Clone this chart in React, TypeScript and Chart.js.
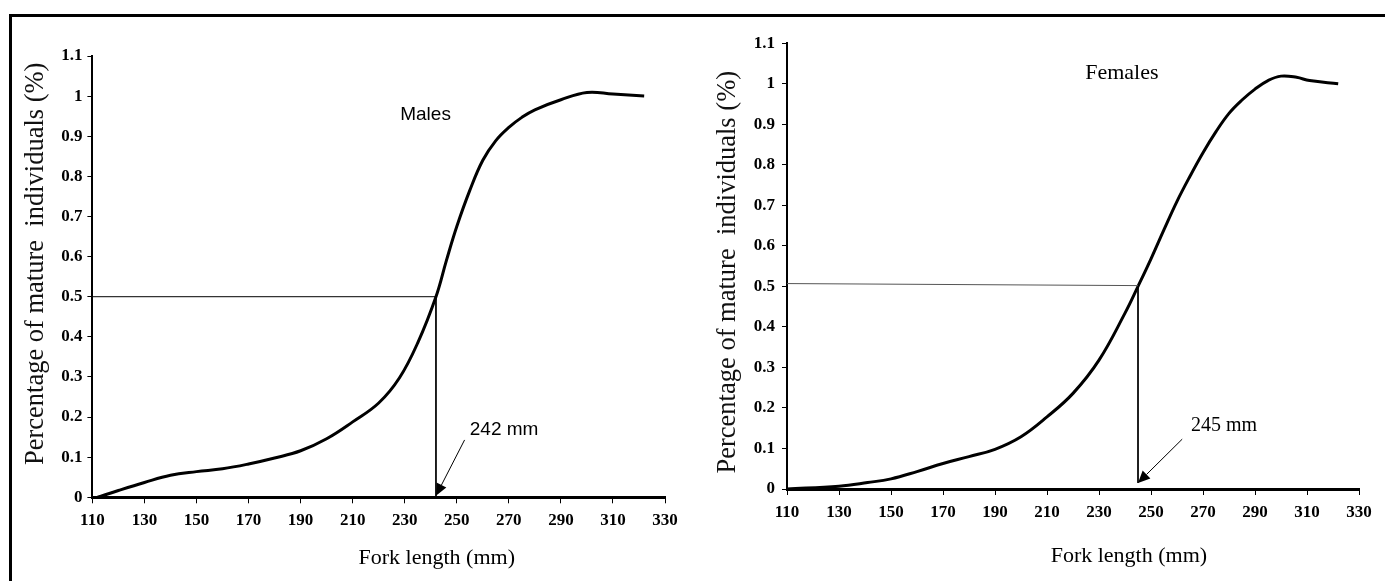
import React, { useEffect, useRef } from "react";
import { Chart, registerables } from "chart.js";

Chart.register(...registerables);

// ---------- data ----------
const xTickValues = [110, 130, 150, 170, 190, 210, 230, 250, 270, 290, 310, 330];
const yTickValues = [0, 0.1, 0.2, 0.3, 0.4, 0.5, 0.6, 0.7, 0.8, 0.9, 1, 1.1];

const maleLength = [112, 120, 130, 140, 150, 160, 170, 180, 190, 200, 210, 220, 228, 235, 242, 246, 250, 255, 260, 265, 270, 275, 280, 290, 300, 310, 322];
const maleMature = [0, 0.017, 0.037, 0.055, 0.064, 0.071, 0.083, 0.098, 0.116, 0.146, 0.188, 0.235, 0.298, 0.385, 0.5, 0.59, 0.675, 0.765, 0.84, 0.889, 0.922, 0.947, 0.966, 0.991, 1.009, 1.005, 1.0];

const femaleLength = [110, 130, 141, 150, 160, 170, 180, 190, 200, 210, 220, 230, 240, 245, 250, 255, 260, 265, 270, 275, 280, 285, 290, 295, 300, 306, 311, 322];
const femaleMature = [0, 0.007, 0.016, 0.025, 0.043, 0.063, 0.08, 0.098, 0.129, 0.178, 0.236, 0.318, 0.434, 0.5, 0.568, 0.64, 0.71, 0.772, 0.83, 0.882, 0.927, 0.96, 0.987, 1.008, 1.019, 1.016, 1.008, 1.0];

const maleL50 = 242;
const femaleL50 = 245;

// reference lines (x values, y values)
const maleGuideX = [110, maleL50, maleL50];
const maleGuideY = [0.5, 0.5, 0];
const femaleHGuideX = [110, femaleL50];
const femaleHGuideY = [0.507, 0.502];
const femaleVGuideX = [femaleL50, femaleL50];
const femaleVGuideY = [0.5, 0.015];

// annotation anchors in data units
const maleArrowFrom = [253, 0.143];
const maleArrowTo = [maleL50, 0.004];
const femaleArrowFrom = [262, 0.123];
const femaleArrowTo = [femaleL50, 0.015];
const maleLabelAt = [238, 0.953];
const femaleLabelAt = [238.8, 1.027];
const maleL50LabelAt = [255, 0.168];
const femaleL50LabelAt = [265.4, 0.155];
const maleXTitleCenter = 242.3;
const femaleXTitleCenter = 241.5;
const maleYTitleCenter = 0.582;
const femaleYTitleCenter = 0.535;

const SERIF = "'Liberation Serif', 'Times New Roman', serif";
const SANS = "'Liberation Sans Narrow', 'Liberation Sans', Arial, sans-serif";
const Y_TITLE = "Percentage of mature  individuals (%)";
const X_TITLE = "Fork length (mm)";

const toPts = (xs: number[], ys: number[]) => xs.map((x, i) => ({ x, y: ys[i] }));

const annotPlugin = {
  id: "annot",
  afterDatasetsDraw(chart: any, _args: any, opts: any) {
    const { ctx } = chart;
    const xs = chart.scales.x;
    const ys = chart.scales.y;
    ctx.save();
    for (const a of opts.arrows || []) {
      const x1 = xs.getPixelForValue(a.from[0]);
      const y1 = ys.getPixelForValue(a.from[1]);
      const x2 = xs.getPixelForValue(a.to[0]);
      const y2 = ys.getPixelForValue(a.to[1]);
      const ang = Math.atan2(y2 - y1, x2 - x1);
      const head = 12;
      const half = 5.5;
      const bx = x2 - head * Math.cos(ang);
      const by = y2 - head * Math.sin(ang);
      ctx.strokeStyle = "#000";
      ctx.fillStyle = "#000";
      ctx.lineWidth = 1;
      ctx.beginPath();
      ctx.moveTo(x1, y1);
      ctx.lineTo(bx, by);
      ctx.stroke();
      ctx.beginPath();
      ctx.moveTo(x2, y2);
      ctx.lineTo(bx + half * Math.sin(ang), by - half * Math.cos(ang));
      ctx.lineTo(bx - half * Math.sin(ang), by + half * Math.cos(ang));
      ctx.closePath();
      ctx.fill();
    }
    ctx.textBaseline = "middle";
    ctx.fillStyle = "#000";
    for (const t of opts.texts || []) {
      ctx.font = t.font;
      ctx.textAlign = t.align || "center";
      ctx.fillText(t.text, xs.getPixelForValue(t.at[0]), ys.getPixelForValue(t.at[1]));
    }
    if (opts.xTitle) {
      const t = opts.xTitle;
      ctx.font = t.font;
      ctx.textAlign = "center";
      ctx.fillText(t.text, xs.getPixelForValue(t.center), xs.bottom - t.fromBottom);
    }
    if (opts.yTitle) {
      const t = opts.yTitle;
      ctx.save();
      ctx.font = t.font;
      ctx.fillStyle = "#111";
      ctx.textAlign = "center";
      ctx.translate(ys.left + t.fromLeft, ys.getPixelForValue(t.center));
      ctx.rotate(-Math.PI / 2);
      ctx.fillText(t.text, 0, 0);
      ctx.restore();
    }
    ctx.restore();
  },
};

type Spec = {
  curveX: number[];
  curveY: number[];
  guides: { x: number[]; y: number[]; color: string }[];
  pad: { left: number; right: number; top: number; bottom: number };
  yWidth: number;
  xHeight: number;
  yTickPad: number;
  arrows: any[];
  texts: any[];
  xTitle: any;
  yTitle: any;
};

function makeConfig(s: Spec): any {
  return {
    type: "line",
    data: {
      datasets: [
        ...s.guides.map((g) => ({
          data: toPts(g.x, g.y),
          borderColor: g.color,
          borderWidth: 1,
          pointRadius: 0,
          tension: 0,
          fill: false,
        })),
        {
          data: toPts(s.curveX, s.curveY),
          borderColor: "#000",
          borderWidth: 3,
          pointRadius: 0,
          tension: 0.4,
          fill: false,
        },
      ],
    },
    options: {
      responsive: false,
      animation: false,
      devicePixelRatio: 1,
      layout: { padding: s.pad },
      plugins: {
        legend: { display: false },
        tooltip: { enabled: false },
        annot: { arrows: s.arrows, texts: s.texts, xTitle: s.xTitle, yTitle: s.yTitle },
      },
      scales: {
        x: {
          type: "linear",
          min: xTickValues[0],
          max: xTickValues[xTickValues.length - 1],
          afterBuildTicks: (scale: any) => {
            scale.ticks = xTickValues.map((v) => ({ value: v }));
          },
          ticks: {
            color: "#000",
            font: { family: SERIF, size: 17, weight: "bold" },
            padding: 7,
            maxRotation: 0,
            autoSkip: false,
          },
          grid: { display: true, drawOnChartArea: false, drawTicks: true, tickLength: 6, color: "#000", lineWidth: 1 },
          border: { display: true, color: "#000", width: 3 },
          title: { display: false },
          afterFit: (scale: any) => {
            scale.height = s.xHeight;
          },
        },
        y: {
          type: "linear",
          min: 0,
          max: 1.1,
          afterBuildTicks: (scale: any) => {
            scale.ticks = yTickValues.map((v) => ({ value: v }));
          },
          ticks: {
            color: "#000",
            font: { family: SERIF, size: 17, weight: "bold" },
            padding: s.yTickPad,
            autoSkip: false,
            callback: (v: number) => String(Math.round(v * 10) / 10),
          },
          grid: { display: true, drawOnChartArea: false, drawTicks: true, tickLength: 5, color: "#000", lineWidth: 1 },
          border: { display: true, color: "#000", width: 2 },
          title: { display: false },
          afterFit: (scale: any) => {
            scale.width = s.yWidth;
          },
        },
      },
    },
    plugins: [annotPlugin],
  };
}

const maleSpec: Spec = {
  curveX: maleLength,
  curveY: maleMature,
  guides: [{ x: maleGuideX, y: maleGuideY, color: "#000" }],
  pad: { left: 0, right: 27, top: 40, bottom: 0 },
  yWidth: 78.4,
  xHeight: 83.7,
  yTickPad: 5,
  arrows: [{ from: maleArrowFrom, to: maleArrowTo }],
  texts: [
    { text: "Males", at: maleLabelAt, font: `19px ${SANS}`, align: "center" },
    { text: `${maleL50} mm`, at: maleL50LabelAt, font: `19px ${SANS}`, align: "left" },
  ],
  xTitle: { text: X_TITLE, center: maleXTitleCenter, fromBottom: 22.5, font: `22px ${SERIF}` },
  yTitle: { text: Y_TITLE, center: maleYTitleCenter, fromLeft: 22, font: `26.5px ${SERIF}` },
};

const femaleSpec: Spec = {
  curveX: femaleLength,
  curveY: femaleMature,
  guides: [
    { x: femaleHGuideX, y: femaleHGuideY, color: "#555" },
    { x: femaleVGuideX, y: femaleVGuideY, color: "#000" },
  ],
  pad: { left: 0, right: 26, top: 27.3, bottom: 0 },
  yWidth: 89,
  xHeight: 92,
  yTickPad: 7,
  arrows: [{ from: femaleArrowFrom, to: femaleArrowTo }],
  texts: [
    { text: "Females", at: femaleLabelAt, font: `22px ${SERIF}`, align: "center" },
    { text: `${femaleL50} mm`, at: femaleL50LabelAt, font: `20px ${SERIF}`, align: "left" },
  ],
  xTitle: { text: X_TITLE, center: femaleXTitleCenter, fromBottom: 24.3, font: `22px ${SERIF}` },
  yTitle: { text: Y_TITLE, center: femaleYTitleCenter, fromLeft: 30, font: `26.5px ${SERIF}` },
};

function Panel({ spec, left, width }: { spec: Spec; left: number; width: number }) {
  const ref = useRef<HTMLCanvasElement | null>(null);
  useEffect(() => {
    if (!ref.current) return;
    const chart = new Chart(ref.current, makeConfig(spec));
    return () => chart.destroy();
  }, [spec]);
  return (
    <canvas
      ref={ref}
      width={width}
      height={565}
      style={{ position: "absolute", left, top: 16, width, height: 565, display: "block" }}
    />
  );
}

export default function App() {
  return (
    <div
      style={{
        position: "absolute",
        left: 0,
        top: 0,
        width: 1385,
        height: 581,
        background: "#fff",
        overflow: "hidden",
      }}
    >
      <div
        style={{
          position: "absolute",
          left: 9,
          top: 14,
          width: 1376,
          height: 567,
          boxSizing: "border-box",
          borderTop: "3px solid #000",
          borderLeft: "3px solid #000",
        }}
      />
      <Panel spec={maleSpec} left={14} width={678} />
      <Panel spec={femaleSpec} left={698} width={687} />
    </div>
  );
}
